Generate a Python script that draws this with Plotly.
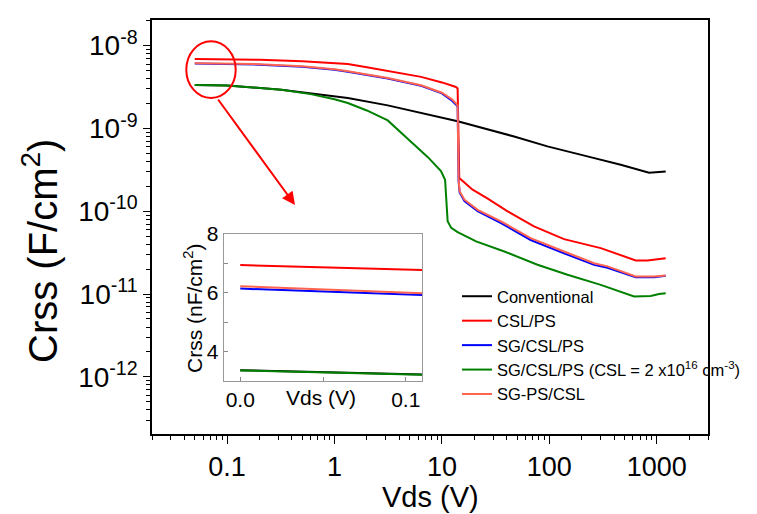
import plotly.graph_objects as go

# ---------------- data ----------------
conv_x = [0.05, 0.1, 0.32, 1.33, 3.13, 14, 47, 96, 226, 462, 848, 1211]
conv_y = [3.35e-9, 3.3e-9, 2.94e-9, 2.33e-9, 1.9e-9, 1.22e-9, 8.0e-10, 6.08e-10,
          4.6e-10, 3.65e-10, 2.92e-10, 3.03e-10]

csl_x = [0.05, 0.1, 0.2, 0.5, 1, 1.33, 2, 3.13, 6.4, 10, 13.5, 14.0, 14.5, 19.3,
         26.7, 40.9, 72, 137, 301, 637, 818, 1211]
csl_y = [6.9e-9, 6.85e-9, 6.75e-9, 6.5e-9, 6.2e-9, 6.0e-9, 5.5e-9, 4.95e-9, 4.2e-9,
         3.6e-9, 3.17e-9, 3.05e-9, 2.52e-10, 1.82e-10, 1.42e-10, 1.0e-10, 6.57e-11,
         4.61e-11, 3.59e-11, 2.55e-11, 2.55e-11, 2.7e-11]

sp_x = [0.05, 0.1, 0.2, 0.5, 1, 1.33, 2, 3.13, 6.4, 10, 12.5, 13.5, 14.0, 14.3,
        14.6, 16.2, 21.5, 35.5, 67, 137, 261, 348, 637, 944, 1211]
sgcsl_y = [6.07e-9, 6.02e-9, 5.9e-9, 5.58e-9, 5.13e-9, 4.85e-9, 4.45e-9, 4.02e-9,
           3.27e-9, 2.65e-9, 2.15e-9, 1.95e-9, 1.85e-9, 2.3e-10, 1.7e-10, 1.33e-10,
           1.0e-10, 7.2e-11, 4.5e-11, 3.1e-11, 2.25e-11, 2.08e-11, 1.6e-11, 1.6e-11,
           1.66e-11]
sgps_y = [6.15e-9, 6.1e-9, 5.98e-9, 5.65e-9, 5.2e-9, 4.9e-9, 4.5e-9, 4.07e-9,
          3.32e-9, 2.7e-9, 2.23e-9, 2.03e-9, 1.9e-9, 2.4e-10, 1.75e-10, 1.38e-10,
          1.04e-10, 7.55e-11, 4.74e-11, 3.27e-11, 2.36e-11, 2.16e-11, 1.63e-11,
          1.63e-11, 1.68e-11]

green_x = [0.05, 0.1, 0.32, 0.6, 1, 1.33, 2, 3.13, 4.8, 7.4, 9.8, 10.7, 11.3, 12.2,
           14, 20.8, 38.1, 77.6, 147.6, 301, 615, 877, 1050, 1211]
green_y = [3.35e-9, 3.3e-9, 2.94e-9, 2.6e-9, 2.25e-9, 2.03e-9, 1.65e-9, 1.25e-9,
           7.5e-10, 4.5e-10, 3.05e-10, 2.4e-10, 7.6e-11, 6.3e-11, 5.6e-11, 4.33e-11,
           3.27e-11, 2.26e-11, 1.71e-11, 1.29e-11, 9.37e-12, 9.5e-12, 1.0e-11, 1.02e-11]

# inset (nF/cm^2 vs V)
inset_x = [0.0, 0.05, 0.11]
inset_conv = [3.36, 3.29, 3.21]
inset_csl = [6.94, 6.86, 6.77]
inset_sgcsl = [6.14, 6.03, 5.92]
inset_green = [3.35, 3.28, 3.20]
inset_sgps = [6.22, 6.10, 5.98]

names = ["Conventional", "CSL/PS", "SG/CSL/PS",
         "SG/CSL/PS (CSL = 2 x10<sup>16</sup> cm<sup>-3</sup>)", "SG-PS/CSL"]
colors = ["#000000", "#FF0000", "#0000FF", "#008000", "#FF6450"]

x_major = [0.1, 1, 10, 100, 1000]
x_major_text = ["0.1", "1", "10", "100", "1000"]
y_major = [1e-12, 1e-11, 1e-10, 1e-9, 1e-8]
y_major_text = ["10<sup>-12</sup>", "10<sup>-11</sup>", "10<sup>-10</sup>",
                "10<sup>-9</sup>", "10<sup>-8</sup>"]

FONT = "Arial, Liberation Sans, sans-serif"

fig = go.Figure()
main_series = [(conv_x, conv_y), (csl_x, csl_y), (sp_x, sgcsl_y), (green_x, green_y), (sp_x, sgps_y)]
for (xs, ys), nm, c in zip(main_series, names, colors):
    fig.add_trace(go.Scatter(x=xs, y=ys, mode="lines", name=nm,
                             line=dict(color=c, width=2), xaxis="x", yaxis="y"))

inset_series = [inset_conv, inset_csl, inset_sgcsl, inset_green, inset_sgps]
for ys, c in zip(inset_series, colors):
    fig.add_trace(go.Scatter(x=inset_x, y=ys, mode="lines", showlegend=False,
                             line=dict(color=c, width=2), xaxis="x2", yaxis="y2"))

x_minor = [m * 10 ** k for k in range(-2, 4) for m in range(2, 10) if 0.02 <= m * 10 ** k <= 3000]
y_minor = [m * 10 ** k for k in range(-13, -7) for m in range(2, 10)]

W, H = 757, 514
ML, MR, MT, MB = 144, 57, 12, 88
PW, PH = W - ML - MR, H - MT - MB


def px(x):
    return (x - ML) / PW


def py(y):
    return (H - MB - y) / PH


fig.update_layout(
    width=W, height=H,
    margin=dict(l=ML, r=MR, t=MT, b=MB, autoexpand=False),
    paper_bgcolor="white", plot_bgcolor="white",
    font=dict(family=FONT, color="black"),
    xaxis=dict(type="log", range=[-1.699, 3.477], tickvals=x_major, ticktext=x_major_text,
               ticks="outside", ticklen=8, tickwidth=1.3, tickcolor="black",
               showline=True, linecolor="black", linewidth=1.5, mirror=True,
               showgrid=False, zeroline=False, tickfont=dict(size=27),
               minor=dict(tickvals=x_minor, ticks="outside", ticklen=4, tickwidth=1.1,
                          tickcolor="black", showgrid=False)),
    yaxis=dict(type="log", range=[-12.69, -7.69], tickvals=y_major, ticktext=y_major_text,
               ticks="outside", ticklen=7, tickwidth=1.3, tickcolor="black",
               showline=True, linecolor="black", linewidth=1.5, mirror=True,
               showgrid=False, zeroline=False, tickfont=dict(size=28),
               minor=dict(tickvals=y_minor, ticks="outside", ticklen=4, tickwidth=1.1,
                          tickcolor="black", showgrid=False)),
    xaxis2=dict(domain=[px(215.7), px(414.3)], anchor="y2", range=[-0.01, 0.11],
                tickvals=[0.0, 0.1], ticktext=["0.0", "0.1"],
                ticks="inside", ticklen=4, tickcolor="#888888",
                showline=True, linecolor="#999999", linewidth=1, mirror=True,
                showgrid=False, zeroline=False, tickfont=dict(size=21),
                minor=dict(tickvals=[0.05], ticks="inside", ticklen=4, tickcolor="#888888")),
    yaxis2=dict(domain=[py(372.7), py(226)], anchor="x2", range=[3, 8],
                tickvals=[4, 6, 8], ticktext=["4", "6", "8"],
                ticks="inside", ticklen=4, tickcolor="#888888",
                showline=True, linecolor="#999999", linewidth=1, mirror=True,
                showgrid=False, zeroline=False, tickfont=dict(size=21),
                minor=dict(tickvals=[5, 7], ticks="inside", ticklen=4, tickcolor="#888888")),
    legend=dict(x=px(449), y=py(271), xanchor="left", yanchor="top",
                bgcolor="rgba(0,0,0,0)", borderwidth=0,
                font=dict(size=16.5, family=FONT), tracegroupgap=0),
    showlegend=True,
)

fig.add_annotation(text="Vds (V)", xref="paper", yref="paper", x=0.5, y=py(489),
                   xanchor="center", yanchor="middle", showarrow=False,
                   font=dict(size=29, family=FONT))
fig.add_annotation(text="Crss (F/cm<sup>2</sup>)", xref="paper", yref="paper",
                   x=px(32), y=py(243), textangle=-90, xanchor="center", yanchor="middle",
                   showarrow=False, font=dict(size=40, family=FONT))
fig.add_annotation(text="Vds (V)", xref="paper", yref="paper", x=px(313), y=py(389),
                   xanchor="center", yanchor="middle", showarrow=False,
                   font=dict(size=21, family=FONT))
fig.add_annotation(text="Crss (nF/cm<sup>2</sup>)", xref="paper", yref="paper",
                   x=px(185), y=py(300), textangle=-90, xanchor="center", yanchor="middle",
                   showarrow=False, font=dict(size=21, family=FONT))

# callout ellipse and arrow
fig.add_shape(type="circle", xref="paper", yref="paper",
              x0=px(178.3), x1=px(227.7), y0=py(90), y1=py(33.3),
              line=dict(color="#FF0000", width=2))
fig.add_annotation(text="", xref="paper", yref="paper", x=px(287), y=py(197),
                   ax=209 - 287, ay=90 - 197, showarrow=True, arrowhead=2,
                   arrowsize=1.3, arrowwidth=2, arrowcolor="#FF0000")

fig.write_html("out.html")
